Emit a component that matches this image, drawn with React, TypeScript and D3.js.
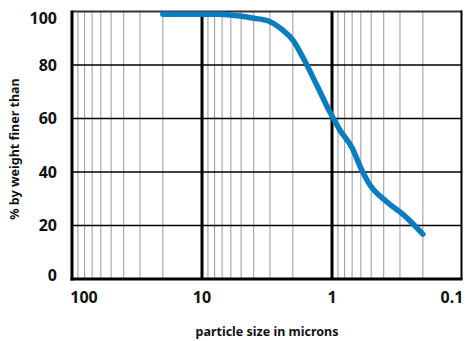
import React from "react";
import * as d3 from "d3";

const sizes = [20, 10, 7.3, 5.1, 4.0, 3.0, 2.4, 2.0, 1.66, 1.31, 1.04, 0.87, 0.7, 0.59, 0.51, 0.38, 0.28, 0.2];
const finer = [99, 99, 99, 98.3, 97.5, 96.2, 93.1, 89.3, 82.5, 72.5, 62.5, 55.7, 49, 40.7, 35.1, 28.9, 23.9, 16.8];
const xMajor = [100, 10, 1, 0.1];
const xTickLabels = ["100", "10", "1", "0.1"];
const yTicks = [0, 20, 40, 60, 80, 100];
const minorMult = [9, 8, 7, 6, 5, 4, 3, 2];

const W = 467, H = 341;
const FONT = "'Noto Sans', 'Open Sans', sans-serif";

export default function App() {
  const x = d3.scaleLog().domain([100, 0.1]).range([72, 462]);
  const y = d3.scaleLinear().domain([0, 100]).range([279, 11.5]);
  const minors: number[] = [];
  [10, 1, 0.1].forEach((d) => minorMult.forEach((m) => minors.push(d * m)));
  const pts = sizes.map((s, i) => [x(s), y(finer[i])] as [number, number]);
  const line = d3.line().curve(d3.curveMonotoneX)(pts) || "";
  const xLabelPos = (i: number) => {
    const p = x(xMajor[i]);
    if (i === 0) return p + 12;
    if (i === xMajor.length - 1) return p - 10;
    return p;
  };
  const yLabelPos = (v: number) => {
    const p = y(v);
    if (v === 100) return p + 7;
    if (v === 0) return p - 4;
    return p;
  };
  return (
    <svg width={W} height={H} style={{ position: "absolute", left: 0, top: 0, background: "#fff" }}>
      {minors.map((m, i) => (
        <line key={"m" + i} x1={x(m)} x2={x(m)} y1={y(100)} y2={y(0)} stroke="#999" strokeWidth={1} />
      ))}
      {yTicks.slice(1, 5).map((v) => (
        <line key={"h" + v} x1={x(100)} x2={x(0.1)} y1={y(v)} y2={y(v)} stroke="#000" strokeWidth={1.6} />
      ))}
      <line x1={x(100)} x2={x(0.1)} y1={y(100)} y2={y(100)} stroke="#333" strokeWidth={1.8} />
      {[10, 1].map((v) => (
        <line key={"v" + v} x1={x(v)} x2={x(v)} y1={y(100)} y2={y(0)} stroke="#000" strokeWidth={3} />
      ))}
      <line x1={x(0.1) - 0.5} x2={x(0.1) - 0.5} y1={y(100) - 1} y2={y(0)} stroke="#000" strokeWidth={2} />
      <line x1={x(100)} x2={x(100)} y1={y(100) - 1} y2={y(0) + 1.5} stroke="#000" strokeWidth={3} />
      <line x1={x(100) - 1.5} x2={x(0.1) + 0.5} y1={y(0)} y2={y(0)} stroke="#000" strokeWidth={3} />
      <path d={line} fill="none" stroke="#0a7cc2" strokeWidth={5.5} strokeLinecap="round" strokeLinejoin="round" />
      {yTicks.map((v) => (
        <text key={"yl" + v} x={57} y={yLabelPos(v)} dy="0.36em" textAnchor="end" fontFamily={FONT} fontWeight={700} fontSize={16} fill="#111">
          {v}
        </text>
      ))}
      {xTickLabels.map((t, i) => (
        <text key={"xl" + t} x={xLabelPos(i)} y={303} textAnchor="middle" fontFamily={FONT} fontWeight={700} fontSize={16} fill="#111">
          {t}
        </text>
      ))}
      <text x={267} y={336} textAnchor="middle" fontFamily={FONT} fontWeight={700} fontSize={12.5} fill="#111">
        particle size in microns
      </text>
      <text transform="translate(19,149) rotate(-90)" textAnchor="middle" fontFamily={FONT} fontWeight={700} fontSize={12.5} fill="#111">
        % by weight finer than
      </text>
    </svg>
  );
}
